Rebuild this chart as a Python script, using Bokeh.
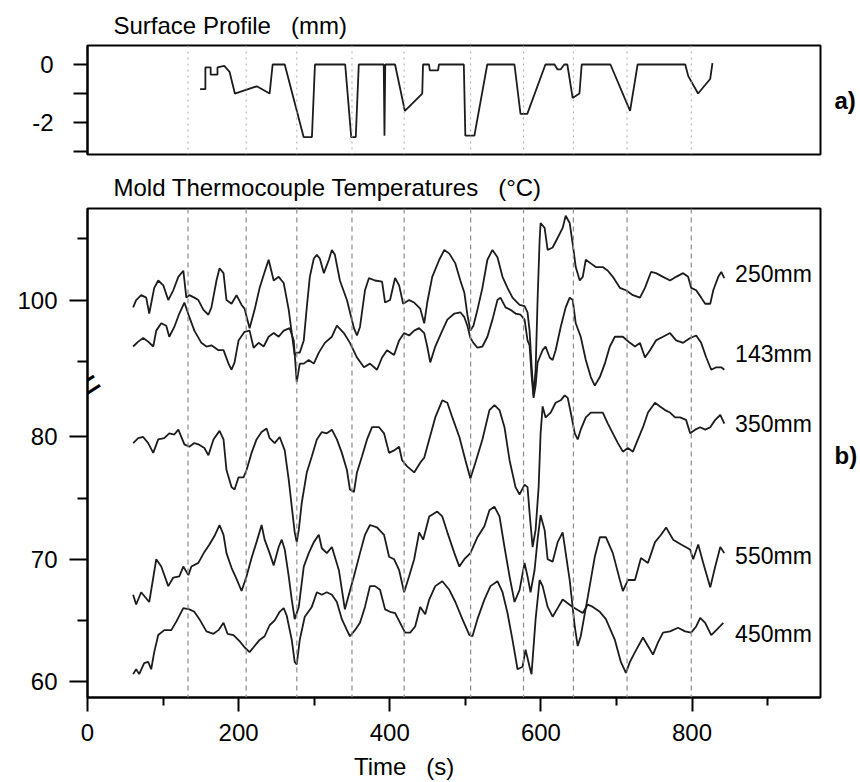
import numpy as np
from bokeh.plotting import figure
from bokeh.layouts import column
from bokeh.models import FixedTicker, Span, Label, LinearAxis
from bokeh.embed import file_html
from bokeh.resources import INLINE

FONT = "Liberation Sans"
NB = "\u00a0"

# ---------------- data ----------------
# surface profile (top panel): time (s), depth (mm)
prof_t = [149, 156, 156, 163, 163, 172, 172, 181, 188, 195, 224, 241, 245, 261, 286, 297, 301, 341,
          349, 355, 359, 392, 393, 394, 407, 420, 443, 444, 452, 453, 464, 465, 498, 500, 512, 529,
          565, 573, 582, 606, 618, 622, 626, 631, 635, 642, 651, 654, 692, 718, 728, 791, 795, 808,
          824, 827]
prof_mm = [-0.85, -0.85, -0.1, -0.1, -0.35, -0.35, -0.1, -0.05, -0.25, -1.0, -0.75, -1.0, 0, 0, -2.5,
           -2.5, 0, 0, -2.5, -2.5, 0, 0, -2.45, 0, 0, -1.6, -1.0, 0, 0, -0.2, -0.2, 0, 0, -2.45, -2.45,
           0, 0, -1.7, -1.7, 0, 0, -0.17, -0.17, 0, 0, -1.15, -1.0, 0, 0, -1.6, 0, 0, -0.4, -1.0, -0.5,
           0.05]
prof_ticks = [0, -1, -2, -3]
prof_tick_labels = {0: "0", -1: "", -2: "-2", -3: ""}

# event markers (s)
event_times = [133, 210, 277, 350, 419, 507, 577, 643, 714, 799]

# thermocouple 250mm
t250 = [60.4, 64.4, 71.0, 77.7, 81.7, 88.3, 93.6, 100.3, 106.9, 113.5, 120.2, 126.8, 130.8, 134.8,
        141.4, 146.7, 153.4, 160.0, 164.0, 170.7, 174.7, 180.0, 183.9, 190.6, 197.2, 203.9, 207.8,
        214.5, 221.1, 227.8, 234.4, 239.7, 246.4, 253.0, 259.6, 266.3, 270.3, 274.2, 276.9, 280.9,
        286.2, 290.2, 294.2, 299.5, 303.5, 307.4, 312.8, 319.4, 323.4, 327.4, 334.0, 343.3, 352.6,
        356.6, 360.6, 367.2, 372.5, 380.5, 389.8, 393.8, 400.4, 407.0, 412.4, 417.7, 425.6, 432.3,
        440.3, 445.6, 449.6, 456.2, 465.5, 472.2, 478.8, 486.8, 493.4, 498.7, 502.7, 506.7, 510.7,
        516.0, 522.6, 529.2, 535.9, 542.5, 549.2, 555.8, 562.4, 571.8, 578.4, 582.3, 585.0, 587.6,
        590.3, 593.0, 595.6, 598.3, 599.6, 604.9, 608.9, 615.5, 622.2, 628.8, 632.8, 638.1, 642.1,
        646.1, 651.4, 655.4, 659.4, 666.0, 672.6, 681.9, 688.6, 695.2, 704.5, 712.5, 721.8, 731.1,
        737.7, 745.7, 752.3, 761.6, 770.9, 778.9, 788.2, 794.8, 798.8, 805.5, 812.1, 817.4, 824.1,
        828.1, 834.7, 838.7, 842.7]
v250 = [99.4, 100.0, 100.4, 100.2, 98.9, 101.0, 101.6, 101.2, 100.0, 100.8, 101.9, 102.4, 100.2, 100.4,
        100.2, 100.0, 99.2, 98.8, 99.4, 101.6, 102.6, 102.2, 100.0, 99.7, 100.4, 99.6, 99.3,
        97.7, 99.2, 101.0, 102.3, 103.3, 101.6, 101.9, 101.4, 99.2, 97.3, 95.5, 95.7, 95.7,
        96.7, 99.4, 101.9, 103.4, 103.7, 103.4, 102.2, 103.3, 104.1, 103.7, 101.6, 100.0, 97.7,
        97.1, 97.8, 100.8, 101.8, 101.6, 101.5, 99.8, 100.0, 101.8, 101.2, 99.7, 100.0, 99.8,
        99.3, 98.1, 99.8, 101.9, 103.3, 104.1, 103.8, 103.0, 101.6, 100.6, 98.8, 97.5, 97.9,
        99.2, 101.0, 103.3, 104.1, 103.5, 101.9, 101.0, 100.2, 99.6, 99.5, 99.0, 97.5, 94.7,
        92.2, 94.3, 100.0, 104.9, 106.3, 105.9, 104.1, 104.3, 105.1, 105.9, 106.9, 106.3, 104.6,
        102.7, 101.6, 101.9, 103.3, 103.0, 102.7, 102.7, 102.4, 101.9, 101.0, 100.8, 100.4, 100.2,
        101.0, 102.3, 102.2, 101.9, 101.6, 101.9, 102.2, 101.9, 101.0, 100.8, 100.2, 99.7, 99.7,
        100.8, 101.9, 102.3, 101.8]

# thermocouple 143mm
t143 = [60.4, 67.1, 73.7, 80.3, 87.0, 91.0, 97.6, 104.2, 108.2, 114.9, 121.5, 128.2, 134.8, 141.4,
        150.7, 157.4, 164.0, 173.3, 180.0, 186.6, 190.6, 194.6, 199.9, 207.8, 214.5, 219.8, 226.4,
        233.1, 239.7, 246.4, 253.0, 259.6, 267.6, 272.9, 276.9, 280.9, 286.2, 292.8, 299.5, 306.1,
        314.1, 323.4, 330.0, 339.3, 347.3, 356.6, 365.9, 373.8, 383.1, 389.8, 396.4, 405.7, 412.4,
        419.0, 425.6, 432.3, 438.9, 445.6, 449.6, 453.6, 460.2, 469.5, 476.2, 485.5, 493.4, 498.7,
        502.7, 506.7, 510.7, 516.0, 522.6, 529.2, 535.9, 542.5, 546.5, 553.2, 559.8, 566.4, 573.1,
        578.4, 582.3, 585.0, 587.6, 590.3, 593.0, 595.6, 598.3, 602.3, 606.2, 611.6, 615.5, 619.5,
        626.2, 632.8, 638.1, 642.1, 646.1, 652.7, 659.4, 666.0, 671.3, 678.0, 684.6, 691.2, 697.9,
        708.5, 717.8, 724.5, 731.1, 737.7, 744.4, 752.3, 761.6, 770.9, 778.9, 788.2, 797.5, 805.5,
        812.1, 818.8, 825.4, 832.1, 838.7, 842.7]
v143 = [96.2, 96.6, 96.9, 96.6, 96.2, 97.5, 98.1, 97.9, 97.0, 97.8, 98.9, 99.8, 98.6, 97.5,
        96.5, 96.2, 96.3, 95.9, 95.9, 94.8, 94.3, 94.9, 96.7, 97.4, 97.5, 96.1, 96.5,
        96.2, 97.0, 97.3, 97.0, 97.5, 97.7, 96.7, 93.3, 94.8, 94.8, 95.1, 94.8, 95.7,
        96.5, 97.0, 97.9, 97.3, 96.5, 95.3, 94.5, 94.8, 94.3, 95.3, 95.9, 95.5, 96.7,
        97.3, 97.1, 97.5, 97.7, 97.3, 96.2, 94.9, 96.2, 97.5, 98.4, 98.9, 99.0, 98.6,
        97.9, 96.9, 96.5, 96.1, 96.2, 97.0, 98.4, 100.0, 100.2, 99.4, 99.2, 98.9, 98.8,
        98.4, 96.7, 96.3, 93.9, 92.0, 93.0, 94.9, 95.3, 95.9, 96.2, 95.3, 95.1, 95.9,
        97.8, 99.4, 100.2, 100.0, 98.1, 97.0, 95.1, 93.7, 93.0, 93.7, 94.8, 96.2, 97.0,
        97.0, 96.5, 96.2, 96.5, 95.3, 95.9, 96.7, 97.0, 97.3, 96.7, 96.5, 96.9, 97.1,
        96.5, 95.3, 94.3, 94.5, 94.5, 94.3]

# thermocouple 350mm
t350 = [60.4, 67.1, 73.7, 80.3, 87.0, 93.6, 101.6, 108.2, 114.9, 120.2, 128.2, 134.8, 141.4, 146.7,
        154.7, 160.0, 166.7, 174.7, 180.0, 183.9, 190.6, 194.6, 199.9, 206.5, 210.5, 217.1, 223.7,
        230.4, 237.0, 241.0, 247.7, 254.3, 261.0, 266.3, 270.3, 274.2, 276.9, 279.6, 283.5, 290.2,
        296.8, 303.5, 310.1, 316.7, 323.4, 330.0, 336.6, 343.3, 347.3, 352.6, 356.6, 363.2, 369.9,
        376.5, 385.8, 392.4, 399.1, 405.7, 412.4, 416.3, 423.0, 432.3, 440.3, 445.6, 452.2, 460.2,
        469.5, 476.2, 482.8, 492.1, 500.1, 506.7, 513.3, 522.6, 531.9, 538.5, 545.2, 551.8, 558.5,
        566.4, 571.8, 578.4, 582.3, 585.0, 589.0, 593.0, 597.0, 599.6, 602.3, 606.2, 612.9, 619.5,
        626.2, 631.5, 635.5, 639.5, 644.8, 648.7, 652.7, 659.4, 666.0, 672.6, 681.9, 688.6, 695.2,
        701.9, 708.5, 715.1, 721.8, 728.4, 735.1, 741.7, 751.0, 757.6, 764.3, 770.9, 777.5, 784.2,
        792.1, 797.5, 804.1, 810.8, 817.4, 824.1, 830.7, 837.4, 842.7]
v350 = [79.5, 79.9, 80.0, 79.5, 78.7, 79.8, 79.9, 80.3, 80.2, 80.6, 79.4, 79.2, 79.5, 79.4,
        79.1, 78.5, 79.8, 80.5, 79.8, 77.3, 75.9, 75.7, 76.7, 76.7, 77.3, 78.7, 79.8,
        80.4, 80.7, 79.9, 79.5, 80.0, 78.9, 76.5, 74.3, 72.2, 71.4, 72.4, 74.6, 77.1,
        78.4, 79.8, 80.4, 80.3, 80.6, 79.8, 78.7, 77.3, 75.7, 75.5, 77.1, 78.4, 79.8,
        80.8, 80.8, 80.3, 78.7, 78.9, 79.2, 78.1, 77.6, 77.1, 77.9, 78.3, 79.8, 81.6,
        83.0, 82.8, 81.6, 80.0, 78.1, 76.6, 77.9, 79.8, 82.2, 82.6, 82.2, 80.8, 78.1,
        75.9, 75.3, 76.1, 75.9, 73.8, 71.0, 72.4, 75.9, 80.3, 82.5, 81.6, 82.0, 82.8,
        83.0, 83.4, 83.2, 82.0, 80.3, 79.8, 80.6, 81.6, 82.0, 82.0, 82.0, 81.1, 80.3,
        79.5, 78.8, 79.1, 78.8, 79.8, 80.8, 82.0, 82.8, 82.5, 82.2, 82.0, 81.6, 81.6,
        81.4, 80.3, 80.6, 80.8, 80.6, 80.8, 81.4, 81.8, 81.1]

# thermocouple 550mm
t550 = [60.4, 64.4, 71.0, 81.7, 91.0, 97.6, 106.9, 113.5, 121.5, 126.8, 133.5, 137.5, 146.7, 154.7,
        161.4, 168.0, 174.7, 180.0, 183.9, 190.6, 197.2, 203.9, 210.5, 217.1, 223.7, 230.4, 234.4,
        241.0, 246.4, 253.0, 257.0, 261.0, 266.3, 270.3, 274.2, 279.6, 286.2, 292.8, 299.5, 306.1,
        310.1, 316.7, 323.4, 332.7, 340.6, 352.6, 360.6, 367.2, 373.8, 383.1, 392.4, 399.1, 405.7,
        412.4, 419.0, 425.6, 432.3, 438.9, 444.2, 452.2, 462.8, 469.5, 476.2, 485.5, 492.1, 498.7,
        506.7, 516.0, 525.2, 531.9, 538.5, 545.2, 551.8, 558.5, 565.1, 571.8, 578.4, 582.3, 586.3,
        591.6, 595.6, 599.6, 604.9, 608.9, 615.5, 622.2, 628.8, 638.1, 644.8, 648.7, 652.7, 662.0,
        671.3, 678.0, 686.0, 695.2, 704.5, 708.5, 715.1, 724.5, 732.4, 741.7, 751.0, 759.0, 765.7,
        775.0, 785.5, 797.5, 801.5, 808.2, 814.8, 824.1, 830.7, 837.4, 842.7]
v550 = [67.1, 66.3, 67.3, 66.5, 70.0, 69.4, 67.8, 68.5, 68.6, 69.4, 68.7, 69.4, 69.7, 70.6,
        71.2, 71.9, 72.8, 72.0, 70.5, 69.3, 68.4, 67.4, 68.6, 70.1, 71.4, 72.8, 71.6,
        70.5, 69.5, 71.0, 71.6, 70.8, 68.6, 66.7, 65.1, 66.1, 69.4, 70.5, 71.4, 72.0,
        70.9, 70.5, 71.0, 69.1, 65.9, 68.6, 70.5, 72.0, 72.8, 72.6, 72.0, 70.2, 70.0,
        69.1, 67.3, 68.6, 70.0, 72.2, 71.6, 73.5, 73.9, 73.5, 72.2, 70.5, 69.4, 70.0,
        70.5, 71.8, 72.7, 74.0, 74.3, 73.5, 71.0, 68.6, 66.5, 67.5, 69.7, 68.6, 67.3,
        69.1, 71.6, 73.6, 72.4, 70.0, 69.8, 71.4, 72.2, 68.3, 64.5, 62.9, 63.7, 66.9,
        70.2, 71.8, 71.8, 70.5, 68.3, 67.4, 68.3, 68.3, 70.1, 69.7, 71.4, 72.0, 72.6,
        71.6, 71.2, 70.8, 70.0, 71.2, 69.7, 67.7, 69.4, 71.0, 70.5]

# thermocouple 450mm
t450 = [60.4, 64.4, 68.4, 75.0, 80.3, 84.3, 88.3, 93.6, 101.6, 110.9, 117.5, 126.8, 134.8, 141.4,
        148.1, 157.4, 166.7, 173.3, 180.0, 185.3, 193.2, 201.2, 207.8, 214.5, 221.1, 227.8, 234.4,
        241.0, 247.7, 254.3, 259.6, 263.6, 270.3, 274.2, 276.9, 280.9, 287.5, 296.8, 303.5, 310.1,
        316.7, 323.4, 330.0, 336.6, 343.3, 347.3, 353.9, 360.6, 367.2, 373.8, 380.5, 387.1, 393.8,
        400.4, 407.0, 413.7, 420.3, 427.0, 433.6, 440.3, 446.9, 452.2, 460.2, 469.5, 478.8, 486.8,
        496.1, 505.4, 509.4, 516.0, 525.2, 533.2, 542.5, 549.2, 555.8, 562.4, 569.1, 575.7, 579.7,
        585.0, 587.6, 593.0, 598.3, 602.3, 608.9, 615.5, 622.2, 628.8, 642.1, 655.4, 662.0, 668.7,
        678.0, 686.0, 697.9, 705.8, 712.5, 717.8, 724.5, 735.1, 741.7, 748.3, 755.0, 761.6, 770.9,
        781.5, 790.8, 798.8, 805.5, 810.8, 817.4, 825.4, 832.1, 841.4]
v450 = [60.6, 61.0, 60.6, 61.5, 61.6, 61.0, 62.4, 63.8, 64.2, 64.2, 64.9, 66.0, 65.9, 65.7,
        65.1, 64.1, 63.9, 64.2, 64.8, 63.9, 63.8, 63.3, 62.8, 62.4, 62.9, 63.4, 63.7,
        64.6, 65.0, 65.7, 66.0, 65.4, 63.4, 61.6, 61.4, 63.4, 65.3, 66.1, 67.3, 67.1,
        67.3, 67.1, 66.5, 65.1, 64.2, 63.7, 64.2, 64.8, 66.1, 67.8, 67.8, 67.5, 65.9,
        65.7, 65.6, 64.8, 64.0, 64.0, 64.5, 66.1, 65.5, 66.7, 67.8, 68.2, 67.5, 66.5,
        65.1, 63.8, 63.7, 65.1, 66.7, 67.8, 68.2, 67.3, 65.6, 63.4, 61.0, 61.2, 62.6,
        61.2, 60.6, 65.1, 68.3, 67.8, 66.1, 65.3, 66.0, 66.7, 66.1, 65.6, 66.3, 66.1,
        65.7, 65.1, 63.4, 61.6, 60.7, 61.6, 62.4, 63.6, 62.9, 62.2, 63.2, 64.0, 64.1,
        64.4, 64.1, 64.0, 64.5, 65.2, 64.8, 63.8, 64.2, 64.8]

curve_names = ["250mm", "143mm", "350mm", "550mm", "450mm"]
label_temps = [102.1, 95.6, 81.1, 70.3, 63.9]

# y-axis break: temperatures above the break are drawn shifted down by this much
BREAK_SHIFT = 8.8
upper_ticks = [100]
upper_minor = [95, 105]
lower_ticks = [60, 70, 80]
lower_minor = [65, 75]
x_ticks = [0, 200, 400, 600, 800]
x_minor = [100, 300, 500, 700, 900]

LINE = "#1c1c1c"


def tag_axis(text, where_value, standoff, bold=True):
    """An axis without line/ticks that only carries one text (panel tags, axis title)."""
    ax = LinearAxis(ticker=FixedTicker(ticks=[where_value], minor_ticks=[]),
                    major_label_overrides={where_value: text})
    ax.axis_line_color = None
    ax.major_tick_line_color = None
    ax.minor_tick_line_color = None
    ax.major_tick_out = 0
    ax.major_tick_in = 0
    ax.major_label_standoff = standoff
    ax.major_label_text_font = FONT
    ax.major_label_text_font_size = "24px"
    ax.major_label_text_color = "black"
    ax.major_label_text_font_style = "bold" if bold else "normal"
    return ax


# ---------------- top panel ----------------
p1 = figure(width=860, height=162, x_range=(0, 970), y_range=(-3.1, 0.655),
            output_backend="svg", toolbar_location=None,
            min_border_left=87, min_border_right=40, min_border_top=45, min_border_bottom=8)
p1.title.text = "Surface Profile" + NB * 3 + "(mm)"
p1.title.text_font = FONT
p1.title.text_font_size = "24px"
p1.title.text_font_style = "normal"
p1.title.text_color = "black"
p1.title.align = "left"
p1.title.offset = 26
p1.title.standoff = 13
p1.xaxis.visible = False
p1.grid.visible = False
p1.outline_line_color = "black"
p1.outline_line_width = 2
p1.yaxis.ticker = FixedTicker(ticks=prof_ticks, minor_ticks=[])
p1.yaxis.major_label_overrides = prof_tick_labels
p1.yaxis.major_tick_out = 14
p1.yaxis.major_tick_in = 0
p1.yaxis.major_tick_line_width = 2
p1.yaxis.axis_line_width = 2
p1.yaxis.major_label_standoff = 20
p1.yaxis.major_label_text_font = FONT
p1.yaxis.major_label_text_font_size = "24px"
p1.yaxis.major_label_text_color = "black"
for t in event_times:
    p1.add_layout(Span(location=t, dimension="height", line_color="#aaaaaa",
                       line_dash="2 4", line_width=1))
p1.line(prof_t, prof_mm, line_color=LINE, line_width=1.8)
p1.add_layout(tag_axis("a)", -1.24, 14), "right")

# ---------------- bottom panel ----------------
shift = lambda arr: list(np.asarray(arr, dtype=float) - BREAK_SHIFT)

p2 = figure(width=860, height=620, x_range=(0, 970), y_range=(58.69, 98.69),
            output_backend="svg", toolbar_location=None,
            min_border_left=87, min_border_right=40, min_border_top=46, min_border_bottom=85)
p2.title.text = "Mold Thermocouple Temperatures" + NB * 3 + "(°C)"
p2.title.text_font = FONT
p2.title.text_font_size = "24px"
p2.title.text_font_style = "normal"
p2.title.text_color = "black"
p2.title.align = "left"
p2.title.offset = 26
p2.title.standoff = 16
p2.grid.visible = False
p2.outline_line_color = "black"
p2.outline_line_width = 2

ymaj = lower_ticks + shift(upper_ticks)
ymin = lower_minor + shift(upper_minor)
p2.yaxis.ticker = FixedTicker(ticks=ymaj, minor_ticks=ymin)
p2.yaxis.major_label_overrides = {s: str(u) for s, u in zip(shift(upper_ticks), upper_ticks)}
p2.yaxis.major_tick_out = 18
p2.yaxis.major_tick_in = 0
p2.yaxis.minor_tick_out = 10
p2.yaxis.minor_tick_in = 0
p2.yaxis.major_label_standoff = 12
p2.xaxis.ticker = FixedTicker(ticks=x_ticks, minor_ticks=x_minor)
p2.xaxis.major_tick_out = 14
p2.xaxis.major_tick_in = 0
p2.xaxis.minor_tick_out = 8
p2.xaxis.minor_tick_in = 0
p2.xaxis.major_label_standoff = 12
for ax in (p2.xaxis, p2.yaxis):
    ax.axis_line_width = 2
    ax.major_tick_line_width = 2
    ax.minor_tick_line_width = 2
    ax.major_label_text_font = FONT
    ax.major_label_text_font_size = "24px"
    ax.major_label_text_color = "black"

for t in event_times:
    p2.add_layout(Span(location=t, dimension="height", line_color="#8c8c8c",
                       line_dash="5 4", line_width=1.2))

p2.line(t250, shift(v250), line_color=LINE, line_width=1.8)
p2.line(t143, shift(v143), line_color=LINE, line_width=1.8)
p2.line(t350, v350, line_color=LINE, line_width=1.8)
p2.line(t550, v550, line_color=LINE, line_width=1.8)
p2.line(t450, v450, line_color=LINE, line_width=1.8)

label_y = shift(label_temps[:2]) + label_temps[2:]
for name, ly in zip(curve_names, label_y):
    p2.add_layout(Label(x=857, y=ly, text=name, text_font=FONT, text_font_size="23px",
                        text_color="black", text_baseline="middle", text_align="left"))

p2.add_layout(tag_axis("b)", 78.5, 14), "right")
p2.add_layout(tag_axis("Time" + NB * 3 + "(s)", 419, 9, bold=False), "below")
# axis break mark
p2.add_layout(Label(x=0, y=84.2, text="=", text_font=FONT, text_font_size="44px",
                    text_color="black", angle=0.57, text_baseline="middle", text_align="center"))

layout = column(p1, p2, spacing=0)
open("out.html", "w").write(file_html(layout, INLINE))
